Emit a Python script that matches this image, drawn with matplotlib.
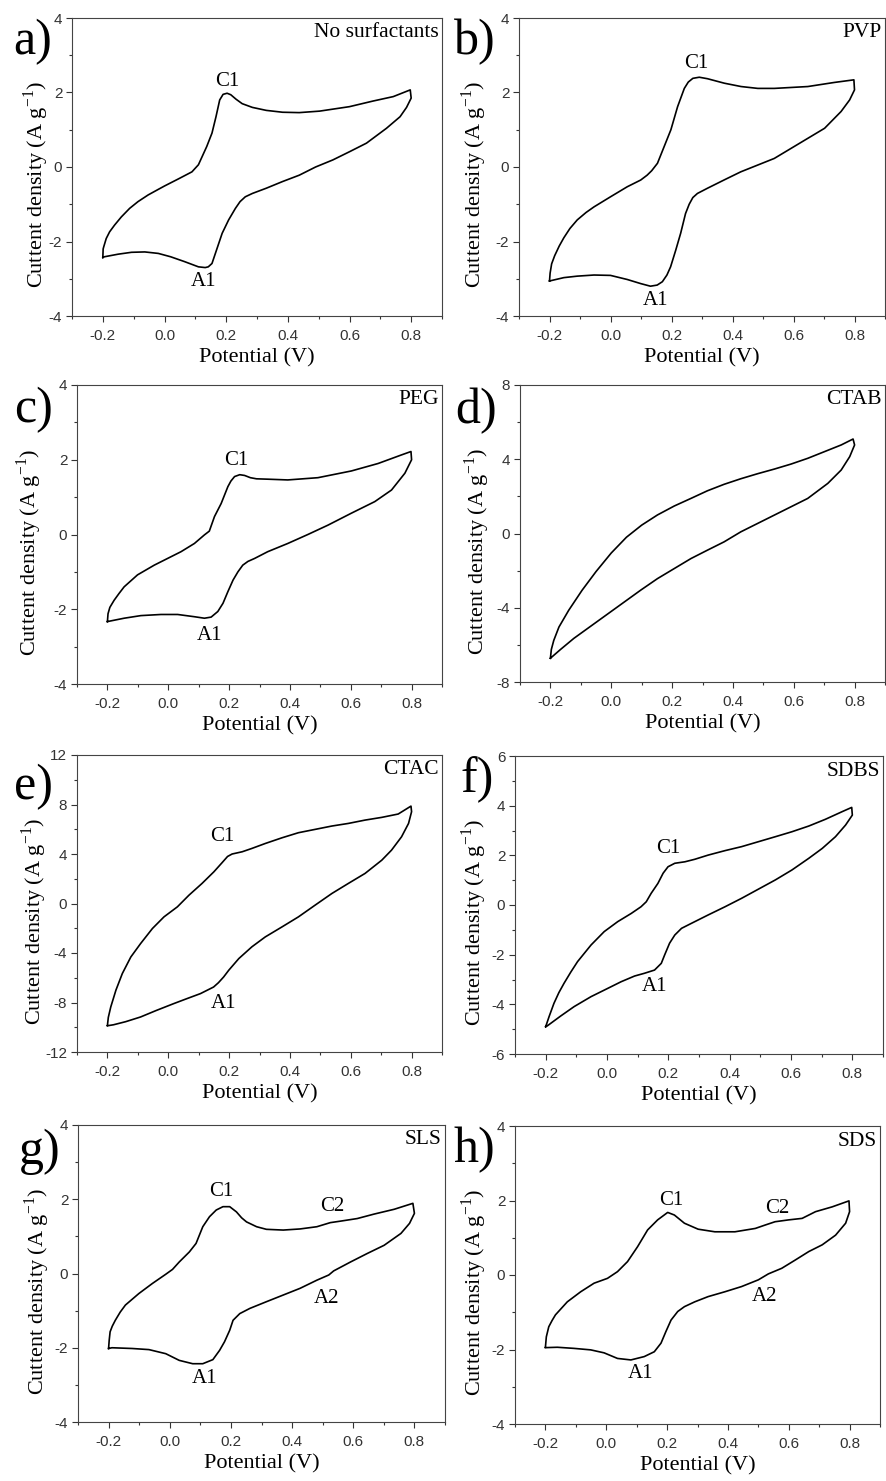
import numpy as np
import matplotlib
matplotlib.use('Agg')
import matplotlib.pyplot as plt
from matplotlib.ticker import MultipleLocator

plt.rcParams['font.family'] = ['Liberation Serif', 'DejaVu Serif']
plt.rcParams['mathtext.fontset'] = 'custom'
plt.rcParams['mathtext.rm'] = 'Liberation Serif'
plt.rcParams['axes.unicode_minus'] = False

# --- данные: петли ЦВА (прямой ход -0.2 -> 0.8, затем обратный) ---
a_x = [-0.2, -0.199, -0.197, -0.189, -0.178, -0.162, -0.14, -0.113, -0.086, -0.053, -0.02, 0.0, 0.045, 0.089,
       0.11, 0.137, 0.154, 0.167, 0.179, 0.19, 0.203, 0.215, 0.232, 0.252, 0.285, 0.33, 0.383, 0.437, 0.503,
       0.6, 0.676, 0.742, 0.797, 0.8,
       0.785, 0.764, 0.72, 0.655, 0.6, 0.546, 0.49, 0.437, 0.383, 0.33, 0.285, 0.262, 0.245, 0.23, 0.208,
       0.187, 0.165, 0.154, 0.142, 0.132, 0.11, 0.065, 0.02, -0.02, -0.064, -0.107, -0.15, -0.195, -0.2]
a_y = [-2.43, -2.2, -2.14, -1.92, -1.74, -1.56, -1.34, -1.11, -0.93, -0.75, -0.6, -0.51, -0.32, -0.13,
       0.06, 0.55, 0.91, 1.35, 1.8, 1.95, 1.98, 1.94, 1.82, 1.7, 1.6, 1.52, 1.47, 1.46, 1.5,
       1.62, 1.77, 1.89, 2.07, 1.85,
       1.6, 1.35, 1.04, 0.64, 0.41, 0.19, 0.0, -0.22, -0.39, -0.57, -0.71, -0.8, -0.93, -1.11, -1.42,
       -1.78, -2.32, -2.59, -2.68, -2.7, -2.68, -2.54, -2.41, -2.32, -2.28, -2.29, -2.34, -2.41, -2.43]

b_x = [-0.2, -0.198, -0.193, -0.183, -0.168, -0.153, -0.133, -0.109, -0.08, -0.054, 0.0, 0.055, 0.099, 0.12,
       0.135, 0.154, 0.176, 0.198, 0.22, 0.242, 0.255, 0.27, 0.291, 0.318, 0.373, 0.428, 0.483, 0.537,
       0.647, 0.734, 0.798, 0.8,
       0.784, 0.756, 0.702, 0.647, 0.592, 0.537, 0.482, 0.427, 0.372, 0.318, 0.285, 0.27, 0.258, 0.246,
       0.23, 0.214, 0.197, 0.185, 0.17, 0.153, 0.131, 0.099, 0.055, 0.0, -0.054, -0.109, -0.153, -0.2]
b_y = [-3.06, -2.85, -2.6, -2.38, -2.12, -1.9, -1.65, -1.42, -1.22, -1.07, -0.8, -0.53, -0.35, -0.22,
       -0.1, 0.1, 0.55, 1.0, 1.62, 2.11, 2.28, 2.38, 2.41, 2.37, 2.25, 2.16, 2.11, 2.11,
       2.16, 2.27, 2.34, 2.07,
       1.8, 1.49, 1.04, 0.77, 0.5, 0.23, 0.05, -0.13, -0.35, -0.57, -0.71, -0.82, -1.0, -1.25,
       -1.78, -2.23, -2.68, -2.9, -3.08, -3.17, -3.2, -3.13, -3.02, -2.91, -2.9, -2.93, -2.97, -3.06]

c_x = [-0.2, -0.198, -0.192, -0.178, -0.162, -0.145, -0.101, -0.046, -0.002, 0.042, 0.086, 0.119, 0.135,
       0.152, 0.174, 0.196, 0.206, 0.218, 0.235, 0.251, 0.27, 0.29, 0.327, 0.393, 0.492, 0.602, 0.69, 0.767,
       0.798, 0.8,
       0.778, 0.734, 0.679, 0.602, 0.525, 0.459, 0.393, 0.327, 0.284, 0.262, 0.245, 0.229, 0.213, 0.196,
       0.18, 0.163, 0.141, 0.119, 0.086, 0.031, -0.024, -0.09, -0.145, -0.2]
c_y = [-2.33, -2.12, -1.95, -1.76, -1.58, -1.4, -1.08, -0.82, -0.64, -0.46, -0.24, -0.01, 0.09,
       0.48, 0.83, 1.28, 1.43, 1.55, 1.6, 1.58, 1.52, 1.49, 1.48, 1.46, 1.52, 1.7, 1.9, 2.13,
       2.22, 2.0,
       1.64, 1.19, 0.88, 0.57, 0.25, 0.0, -0.24, -0.46, -0.64, -0.72, -0.82, -1.0, -1.22, -1.53,
       -1.84, -2.06, -2.21, -2.24, -2.2, -2.14, -2.14, -2.17, -2.24, -2.33]

d_x = [-0.2, -0.197, -0.189, -0.172, -0.14, -0.096, -0.05, 0.0, 0.05, 0.1, 0.152, 0.207, 0.262,
       0.316, 0.371, 0.426, 0.481, 0.536, 0.591, 0.646, 0.701, 0.756, 0.795, 0.8,
       0.784, 0.756, 0.712, 0.646, 0.591, 0.536, 0.481, 0.426, 0.371, 0.316, 0.262, 0.207, 0.152, 0.097,
       0.042, -0.013, -0.068, -0.123, -0.167, -0.2]
d_y = [-6.72, -6.25, -5.76, -5.04, -4.14, -3.06, -2.05, -1.05, -0.2, 0.45, 1.0, 1.48, 1.89,
       2.3, 2.65, 2.95, 3.22, 3.47, 3.74, 4.05, 4.41, 4.77, 5.09, 4.77,
       4.14, 3.42, 2.7, 1.89, 1.44, 0.99, 0.54, 0.09, -0.45, -0.9, -1.35, -1.89, -2.43, -3.05,
       -3.7, -4.35, -5.0, -5.65, -6.25, -6.72]

e_x = [-0.2, -0.197, -0.189, -0.172, -0.151, -0.123, -0.091, -0.052, -0.014, 0.03, 0.068, 0.111, 0.15,
       0.177, 0.195, 0.21, 0.243, 0.275, 0.319, 0.374, 0.428, 0.483, 0.538, 0.592, 0.647, 0.702, 0.756,
       0.798, 0.8,
       0.79, 0.767, 0.734, 0.702, 0.647, 0.592, 0.538, 0.483, 0.428, 0.374, 0.319, 0.275, 0.232, 0.199,
       0.182, 0.165, 0.149, 0.106, 0.06, 0.018, -0.04, -0.091, -0.14, -0.18, -0.2]
e_y = [-9.85, -9.2, -8.36, -7.0, -5.66, -4.32, -3.24, -2.02, -1.08, -0.27, 0.67, 1.62, 2.56,
       3.3, 3.8, 4.0, 4.18, 4.45, 4.85, 5.31, 5.72, 5.99, 6.26, 6.47, 6.74, 6.96, 7.23,
       7.87, 7.42,
       6.47, 5.39, 4.31, 3.5, 2.43, 1.62, 0.81, -0.13, -1.08, -1.89, -2.7, -3.5, -4.45, -5.39,
       -5.94, -6.4, -6.75, -7.28, -7.7, -8.09, -8.65, -9.17, -9.55, -9.8, -9.88]

f_x = [-0.2, -0.189, -0.173, -0.157, -0.14, -0.118, -0.096, -0.052, -0.009, 0.035, 0.079, 0.111, 0.128,
       0.144, 0.166, 0.183, 0.199, 0.221, 0.254, 0.286, 0.33, 0.385, 0.439, 0.494, 0.549, 0.603, 0.658,
       0.712, 0.767, 0.798, 0.8,
       0.778, 0.745, 0.702, 0.658, 0.603, 0.549, 0.494, 0.439, 0.385, 0.33, 0.275, 0.243, 0.221, 0.204,
       0.188, 0.177, 0.155, 0.122, 0.09, 0.046, 0.002, -0.052, -0.107, -0.151, -0.195, -0.2]
f_y = [-4.9, -4.5, -3.96, -3.53, -3.15, -2.7, -2.28, -1.61, -1.07, -0.67, -0.34, -0.07, 0.13,
       0.47, 0.87, 1.28, 1.54, 1.68, 1.74, 1.84, 2.01, 2.19, 2.35, 2.55, 2.75, 2.95, 3.18,
       3.45, 3.76, 3.93, 3.62,
       3.22, 2.75, 2.28, 1.88, 1.41, 1.01, 0.64, 0.27, -0.07, -0.4, -0.74, -0.94, -1.21, -1.54,
       -2.01, -2.35, -2.62, -2.75, -2.86, -3.09, -3.36, -3.69, -4.09, -4.47, -4.87, -4.9]

g_x = [-0.2, -0.198, -0.195, -0.188, -0.178, -0.162, -0.145, -0.101, -0.057, -0.013, 0.009, 0.031, 0.064,
       0.086, 0.108, 0.13, 0.152, 0.174, 0.196, 0.218, 0.235, 0.251, 0.284, 0.316, 0.371, 0.426, 0.481,
       0.525, 0.558, 0.613, 0.668, 0.734, 0.795, 0.8,
       0.784, 0.756, 0.701, 0.646, 0.591, 0.536, 0.52, 0.481, 0.426, 0.371, 0.316, 0.262, 0.229, 0.207,
       0.196, 0.179, 0.163, 0.141, 0.108, 0.075, 0.031, -0.013, -0.068, -0.123, -0.189, -0.2]
g_y = [-2.02, -1.8, -1.57, -1.42, -1.26, -1.04, -0.85, -0.54, -0.27, -0.02, 0.11, 0.31, 0.58,
       0.81, 1.26, 1.53, 1.71, 1.8, 1.8, 1.66, 1.5, 1.39, 1.26, 1.19, 1.17, 1.2, 1.26,
       1.37, 1.41, 1.48, 1.6, 1.73, 1.89, 1.62,
       1.35, 1.08, 0.76, 0.54, 0.31, 0.07, -0.04, -0.18, -0.4, -0.58, -0.76, -0.94, -1.08, -1.26,
       -1.53, -1.84, -2.07, -2.32, -2.43, -2.43, -2.34, -2.16, -2.05, -2.02, -2.0, -2.02]

h_x = [-0.2, -0.197, -0.189, -0.178, -0.167, -0.128, -0.084, -0.04, 0.004, 0.037, 0.07, 0.103, 0.136,
       0.169, 0.202, 0.224, 0.257, 0.302, 0.357, 0.423, 0.49, 0.522, 0.555, 0.6, 0.644, 0.688, 0.743,
       0.798, 0.8,
       0.787, 0.754, 0.71, 0.666, 0.621, 0.577, 0.533, 0.5, 0.445, 0.39, 0.335, 0.291, 0.257, 0.235,
       0.213, 0.196, 0.18, 0.158, 0.125, 0.081, 0.037, -0.007, -0.051, -0.106, -0.161, -0.2]
h_y = [-1.94, -1.66, -1.39, -1.22, -1.07, -0.72, -0.45, -0.22, -0.09, 0.09, 0.36, 0.76, 1.21,
       1.48, 1.68, 1.61, 1.39, 1.23, 1.16, 1.16, 1.25, 1.34, 1.43, 1.48, 1.52, 1.7, 1.83,
       1.99, 1.7,
       1.39, 1.07, 0.81, 0.63, 0.4, 0.18, 0.03, -0.13, -0.31, -0.45, -0.58, -0.72, -0.85, -0.98,
       -1.21, -1.52, -1.83, -2.06, -2.19, -2.28, -2.24, -2.09, -2.01, -1.97, -1.94, -1.95]

letters = ['a)', 'b)', 'c)', 'd)', 'e)', 'f)', 'g)', 'h)']
samples = ['No surfactants', 'PVP', 'PEG', 'CTAB', 'CTAC', 'SDBS', 'SLS', 'SDS']
curves_x = [a_x, b_x, c_x, d_x, e_x, f_x, g_x, h_x]
curves_y = [a_y, b_y, c_y, d_y, e_y, f_y, g_y, h_y]
y_lims = [4, 4, 4, 8, 12, 6, 4, 4]
y_steps = [2, 2, 2, 4, 4, 2, 2, 2]
x_ticks = [-0.2, 0.0, 0.2, 0.4, 0.6, 0.8]

# подписи пиков: (текст, x, y)
peaks = [
    [('C1', 0.203, 2.29), ('A1', 0.127, -3.08)],
    [('C1', 0.28, 2.79), ('A1', 0.148, -3.58)],
    [('C1', 0.223, 1.99), ('A1', 0.135, -2.69)],
    [],
    [('C1', 0.177, 5.39), ('A1', 0.183, -8.09)],
    [('C1', 0.199, 2.28), ('A1', 0.155, -3.29)],
    [('C1', 0.168, 2.2), ('C2', 0.531, 1.8), ('A1', 0.113, -2.83), ('A2', 0.514, -0.67)],
    [('C1', 0.213, 2.01), ('C2', 0.561, 1.79), ('A1', 0.114, -2.64), ('A2', 0.522, -0.58)],
]

# раскладка в пикселях: left, top, right, bottom
W, H = 886, 1481
boxes = [(72, 18, 442, 316), (519, 18, 885, 316),
         (77, 385, 442, 684), (520, 385, 885, 682),
         (77, 755, 442, 1052), (515, 756, 883, 1054),
         (78, 1125, 445, 1422), (515, 1126, 880, 1424)]
ylab_x = [36, 474, 29, 477, 34, 474, 37, 474]
letter_pos = [(33, 42), (475, 42), (34, 410), (476, 411), (33, 787), (477, 780), (40, 1152), (474, 1150)]

fig = plt.figure(figsize=(W / 100, H / 100), dpi=100)

for i in range(8):
    l, t, r, b = boxes[i]
    ax = fig.add_axes([l / W, 1 - b / H, (r - l) / W, (b - t) / H])
    ax.plot(curves_x[i], curves_y[i], color='black', lw=1.2, solid_joinstyle='round')

    ax.set_xlim(-0.3, 0.9)
    ax.set_ylim(-y_lims[i], y_lims[i])
    ax.set_xticks(x_ticks)
    ax.set_xticklabels(['%.1f' % v for v in x_ticks])
    ax.xaxis.set_minor_locator(MultipleLocator(0.1))
    ax.set_yticks(np.arange(-y_lims[i], y_lims[i] + 1, y_steps[i]))
    ax.yaxis.set_minor_locator(MultipleLocator(y_steps[i] / 2))
    ax.tick_params(which='both', direction='out', color='#333333', width=0.8,
                   labelcolor='#333333', labelsize=11, labelfontfamily='Liberation Sans')
    ax.tick_params(which='major', length=4.5)
    ax.tick_params(which='minor', length=2.5)
    ax.tick_params(axis='x', pad=5)
    ax.tick_params(axis='y', pad=2.5)
    for s in ax.spines.values():
        s.set_color('#444444')
        s.set_linewidth(0.8)

    for txt, px, py in peaks[i]:
        ax.text(px, py, txt, ha='center', va='center', fontsize=15)

    ax.annotate(samples[i], xy=(1, 1), xycoords='axes fraction', xytext=(-3, -15),
                textcoords='offset pixels', ha='right', va='center', fontsize=15.5)

    fig.text(ylab_x[i] / W, 1 - ((t + b) / 2 + 18) / H, 'Cuttent density (A g$^{-1}$)',
             rotation=90, ha='center', va='center', fontsize=16)
    fig.text((l + r) / 2 / W, 1 - (b + 42) / H, 'Potential (V)', ha='center', va='center', fontsize=16)
    fig.text(letter_pos[i][0] / W, 1 - letter_pos[i][1] / H, letters[i],
             ha='center', va='center', fontsize=36)

fig.savefig('out.png', dpi=100)
